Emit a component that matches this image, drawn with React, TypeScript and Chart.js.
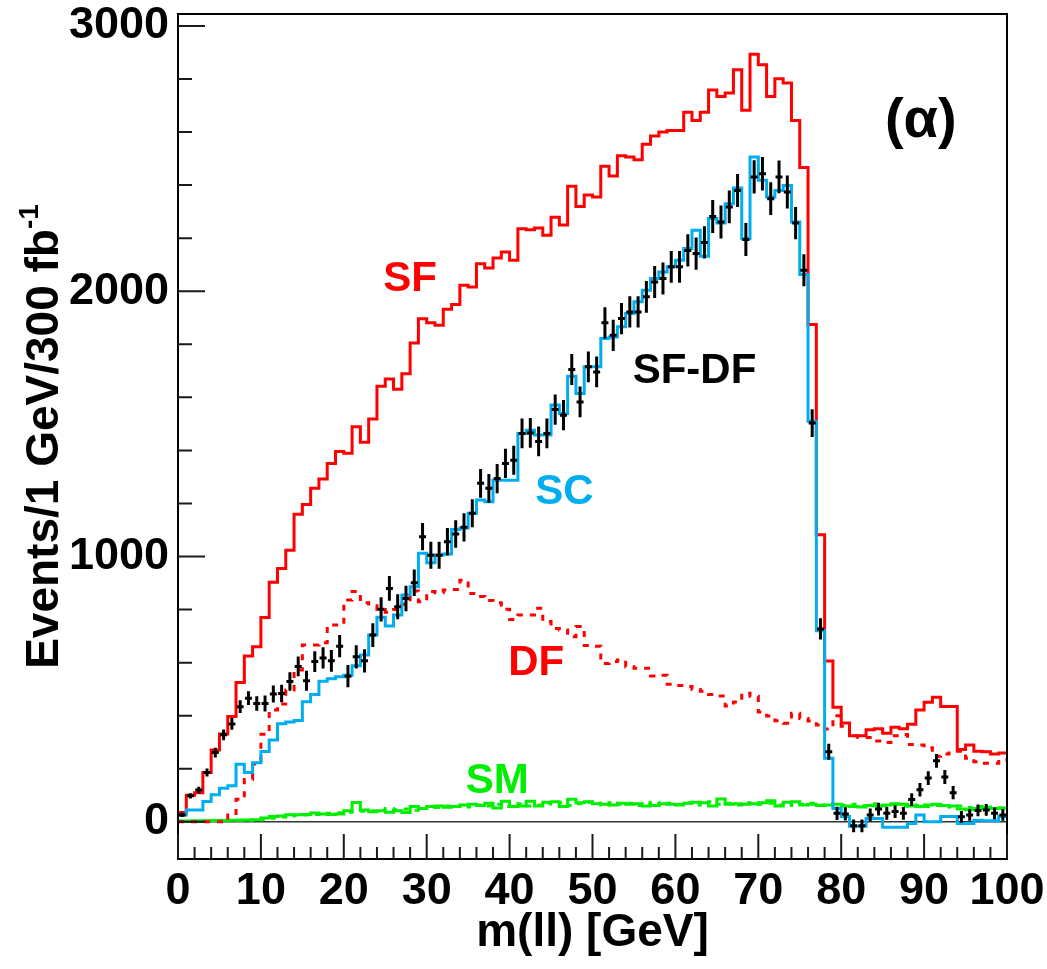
import React, { useEffect, useRef } from 'react';
import { Chart, registerables } from 'chart.js';

Chart.register(...registerables);

// ---- data (1 GeV bins, 0..100 GeV) ----
const BIN_EDGES = [
  0, 1, 2, 3, 4, 5, 6, 7, 8, 9, 10, 11, 12, 13, 14, 15, 16, 17, 18, 19,
  20, 21, 22, 23, 24, 25, 26, 27, 28, 29, 30, 31, 32, 33, 34, 35, 36, 37, 38, 39,
  40, 41, 42, 43, 44, 45, 46, 47, 48, 49, 50, 51, 52, 53, 54, 55, 56, 57, 58, 59,
  60, 61, 62, 63, 64, 65, 66, 67, 68, 69, 70, 71, 72, 73, 74, 75, 76, 77, 78, 79,
  80, 81, 82, 83, 84, 85, 86, 87, 88, 89, 90, 91, 92, 93, 94, 95, 96, 97, 98, 99, 100,
];

const SF = [
  35, 100, 110, 186, 271, 331, 397, 525, 625, 660,
  770, 903, 955, 1024, 1159, 1196, 1257, 1292, 1351, 1396,
  1389, 1489, 1431, 1518, 1642, 1669, 1631, 1689, 1805, 1896,
  1881, 1872, 1932, 1950, 2023, 2016, 2104, 2088, 2125, 2148,
  2117, 2236, 2232, 2238, 2211, 2279, 2250, 2396, 2319, 2363,
  2355, 2471, 2434, 2511, 2506, 2496, 2554, 2585, 2600, 2606,
  2606, 2675, 2644, 2675, 2759, 2734, 2747, 2835, 2682, 2893,
  2854, 2734, 2801, 2785, 2644, 2466, 1875, 1082, 606, 432,
  373, 325, 325, 347, 351, 334, 357, 351, 368, 422,
  451, 470, 435, 435, 273, 290, 266, 264, 256, 260,
];

const DF = [
  0, 0, 0, 0, 0, 0, 26, 85, 160, 218,
  330, 422, 444, 497, 572, 667, 667, 675, 742, 742,
  836, 868, 826, 815, 800, 790, 800, 820, 870, 830,
  868, 864, 874, 876, 911, 861, 849, 834, 826, 801,
  763, 780, 780, 805, 755, 729, 723, 698, 736, 665,
  662, 597, 604, 610, 585, 579, 579, 550, 553, 519,
  514, 510, 499, 492, 480, 474, 437, 452, 485, 473,
  414, 399, 381, 372, 409, 390, 380, 365, 350, 400,
  360, 325, 318, 318, 305, 299, 325, 329, 292, 290,
  279, 247, 256, 266, 266, 240, 227, 221, 221, 234,
];

const SC = [
  26, 45, 45, 77, 102, 127, 136, 217, 186, 223,
  265, 309, 370, 376, 382, 453, 480, 530, 539, 547,
  553, 588, 629, 704, 771, 738, 780, 855, 886, 1012,
  977, 1006, 1010, 1102, 1108, 1163, 1213, 1207, 1288, 1288,
  1288, 1464, 1476, 1458, 1458, 1571, 1539, 1680, 1615, 1715,
  1715, 1822, 1828, 1866, 1916, 1960, 2004, 2048, 2073, 2092,
  2117, 2161, 2230, 2132, 2274, 2257, 2330, 2389, 2198, 2506,
  2418, 2355, 2380, 2399, 2261, 2063, 1510, 720, 240, 50,
  20, -17, -17, 13, 13, -20, -20, -20, -6, 26,
  0, 0, 20, 20, -6, -6, 6, 4, 4, 20,
];

const SM = [
  3, 3, 4, 4, 5, 5, 6, 6, 7, 8,
  15, 20, 22, 27, 27, 28, 33, 30, 28, 30,
  42, 73, 45, 38, 42, 36, 42, 35, 58, 50,
  58, 60, 55, 58, 64, 66, 62, 70, 52, 78,
  58, 60, 78, 60, 74, 76, 58, 85, 72, 76,
  68, 66, 64, 70, 66, 68, 60, 62, 68, 66,
  64, 70, 74, 72, 60, 86, 66, 68, 66, 68,
  72, 80, 60, 74, 76, 64, 66, 62, 64, 66,
  60, 58, 56, 62, 60, 64, 68, 66, 60, 58,
  64, 66, 62, 60, 48, 46, 50, 54, 50, 52,
];

const SM_DASHED = [
  2, 2, 3, 3, 4, 4, 5, 6, 6, 7,
  10, 14, 18, 22, 25, 26, 28, 30, 32, 34,
  36, 38, 40, 42, 44, 50, 46, 48, 44, 52,
  56, 54, 60, 58, 62, 56, 64, 60, 66, 58,
  62, 68, 60, 64, 70, 66, 72, 62, 68, 74,
  70, 64, 72, 66, 70, 62, 68, 74, 64, 70,
  66, 72, 64, 70, 76, 66, 70, 64, 72, 68,
  66, 70, 64, 68, 62, 66, 70, 64, 68, 60,
  64, 66, 60, 64, 68, 62, 66, 60, 64, 62,
  58, 62, 60, 56, 60, 54, 58, 50, 56, 52,
];

const SFDF_DATA = [
  26, 98, 120, 186, 261, 328, 369, 434, 466, 446,
  446, 482, 484, 529, 586, 532, 604, 618, 607, 662,
  549, 622, 607, 704, 801, 880, 811, 842, 901, 1075,
  1005, 1005, 1056, 1085, 1110, 1163, 1276, 1257, 1294, 1351,
  1363, 1464, 1466, 1434, 1464, 1554, 1533, 1705, 1583, 1715,
  1696, 1881, 1834, 1897, 1922, 1922, 1979, 2035, 2048, 2092,
  2092, 2154, 2142, 2184, 2282, 2261, 2318, 2380, 2195, 2431,
  2443, 2349, 2431, 2374, 2257, 2079, 1503, 727, 264, 32,
  30, -15, -15, 26, 48, 32, 39, 32, 84, 121,
  165, 230, 169, 110, 19, 26, 43, 45, 32, 26,
];

const SFDF_ERR = [
  8, 10, 12, 15, 18, 20, 22, 24, 26, 27,
  30, 32, 33, 35, 37, 38, 39, 40, 41, 42,
  42, 44, 44, 45, 46, 47, 47, 48, 50, 51,
  51, 51, 52, 52, 53, 53, 54, 54, 55, 55,
  55, 56, 56, 56, 56, 57, 57, 58, 58, 58,
  58, 59, 59, 59, 59, 59, 60, 60, 60, 60,
  60, 61, 61, 61, 62, 62, 62, 62, 62, 63,
  63, 62, 62, 62, 61, 60, 52, 40, 30, 25,
  25, 24, 24, 24, 24, 24, 24, 24, 24, 25,
  26, 26, 26, 25, 22, 22, 22, 22, 22, 22,
];

const X_TICKS = [0, 10, 20, 30, 40, 50, 60, 70, 80, 90, 100];
const X_MINOR_TICKS = [
  2, 4, 6, 8, 12, 14, 16, 18, 22, 24, 26, 28, 32, 34, 36, 38, 42, 44, 46, 48,
  52, 54, 56, 58, 62, 64, 66, 68, 72, 74, 76, 78, 82, 84, 86, 88, 92, 94, 96, 98,
];
const Y_TICKS = [0, 1000, 2000, 3000];
const Y_MINOR_TICKS = [200, 400, 600, 800, 1200, 1400, 1600, 1800, 2200, 2400, 2600, 2800];

const X_MIN = 0;
const X_MAX = 100;
const Y_MIN = -140;
const Y_MAX = 3045;

const X_TITLE = 'm(ll) [GeV]';
const Y_TITLE = 'Events/1 GeV/300 fb';
const Y_TITLE_SUP = '-1';

// text annotations anchored in data coordinates (center x, baseline y)
const ANNOTATIONS = [
  { text: 'SF', x: 28.0, y: 2000, color: '#ff0000' },
  { text: 'SF-DF', x: 62.3, y: 1653, color: '#000000' },
  { text: 'SC', x: 46.6, y: 1198, color: '#00aeef' },
  { text: 'DF', x: 43.2, y: 554, color: '#ff0000' },
  { text: 'SM', x: 38.5, y: 109, color: '#00ee00' },
];
const PANEL_TAG = { text: '(\u03b1)', x: 89.6, y: 2580 };

const FONT = '"Liberation Sans", Arial, Helvetica, sans-serif';

function histPoints(values: number[]) {
  const pts = values.map((v, i) => ({ x: BIN_EDGES[i], y: v }));
  pts.push({ x: BIN_EDGES[values.length], y: values[values.length - 1] });
  return pts;
}

const rootPlugin = {
  id: 'rootStyle',
  beforeDatasetsDraw(chart: any) {
    const { ctx, chartArea, scales } = chart;
    const y0 = scales.y.getPixelForValue(0);
    ctx.save();
    ctx.strokeStyle = '#333333';
    ctx.lineWidth = 1.5;
    ctx.beginPath();
    ctx.moveTo(chartArea.left, y0);
    ctx.lineTo(chartArea.right, y0);
    ctx.stroke();
    ctx.restore();
  },
  afterDatasetsDraw(chart: any) {
    const { ctx, chartArea, scales } = chart;
    const xs = scales.x;
    const ys = scales.y;
    const { left, right, top, bottom } = chartArea;
    ctx.save();

    // data points with error bars
    ctx.strokeStyle = '#000000';
    ctx.lineWidth = 3;
    ctx.lineCap = 'butt';
    SFDF_DATA.forEach((v, i) => {
      const lo = BIN_EDGES[i];
      const hi = BIN_EDGES[i + 1];
      const xc = (lo + hi) / 2;
      const px = xs.getPixelForValue(xc);
      const pxl = xs.getPixelForValue(xc - 0.42 * (hi - lo));
      const pxh = xs.getPixelForValue(xc + 0.42 * (hi - lo));
      const py = ys.getPixelForValue(v);
      const pyl = ys.getPixelForValue(v - SFDF_ERR[i]);
      const pyh = ys.getPixelForValue(v + SFDF_ERR[i]);
      ctx.beginPath();
      ctx.moveTo(px, pyl);
      ctx.lineTo(px, pyh);
      ctx.moveTo(pxl, py);
      ctx.lineTo(pxh, py);
      ctx.stroke();
    });

    // frame
    ctx.strokeStyle = '#000000';
    ctx.lineWidth = 2;
    ctx.strokeRect(left, top, right - left, bottom - top);

    // ticks (inside)
    ctx.strokeStyle = '#1a1a1a';
    ctx.lineWidth = 2;
    ctx.beginPath();
    Y_TICKS.forEach((t) => {
      const py = ys.getPixelForValue(t);
      ctx.moveTo(left, py);
      ctx.lineTo(left + 27, py);
    });
    Y_MINOR_TICKS.forEach((t) => {
      const py = ys.getPixelForValue(t);
      ctx.moveTo(left, py);
      ctx.lineTo(left + 14, py);
    });
    X_TICKS.forEach((t) => {
      const px = xs.getPixelForValue(t);
      ctx.moveTo(px, bottom);
      ctx.lineTo(px, bottom - 25);
    });
    X_MINOR_TICKS.forEach((t) => {
      const px = xs.getPixelForValue(t);
      ctx.moveTo(px, bottom);
      ctx.lineTo(px, bottom - 12);
    });
    ctx.stroke();
    ctx.restore();
  },
  afterDraw(chart: any) {
    const { ctx, chartArea, scales } = chart;
    const xs = scales.x;
    const ys = scales.y;
    ctx.save();
    ctx.textAlign = 'center';
    ctx.textBaseline = 'alphabetic';

    ANNOTATIONS.forEach((a) => {
      ctx.font = `bold 42px ${FONT}`;
      ctx.fillStyle = a.color;
      ctx.fillText(a.text, xs.getPixelForValue(a.x), ys.getPixelForValue(a.y));
    });

    ctx.font = `bold 56px ${FONT}`;
    ctx.fillStyle = '#000000';
    ctx.fillText(PANEL_TAG.text, xs.getPixelForValue(PANEL_TAG.x), ys.getPixelForValue(PANEL_TAG.y));

    // x title
    ctx.font = `bold 46px ${FONT}`;
    ctx.fillStyle = '#000000';
    ctx.fillText(X_TITLE, (chartArea.left + chartArea.right) / 2, 946);

    // y title (rotated, centred on the plot height) with superscript
    ctx.translate(58, (chartArea.top + chartArea.bottom) / 2);
    ctx.rotate(-Math.PI / 2);
    ctx.font = `bold 46px ${FONT}`;
    const mainW = ctx.measureText(Y_TITLE).width;
    ctx.font = `bold 28px ${FONT}`;
    const supW = ctx.measureText(Y_TITLE_SUP).width;
    const total = mainW + supW;
    ctx.textAlign = 'left';
    ctx.font = `bold 46px ${FONT}`;
    ctx.fillText(Y_TITLE, -total / 2, 0);
    ctx.font = `bold 28px ${FONT}`;
    ctx.fillText(Y_TITLE_SUP, -total / 2 + mainW, -20);
    ctx.restore();
  },
};

export default function App() {
  const canvasRef = useRef<HTMLCanvasElement | null>(null);

  useEffect(() => {
    document.body.style.margin = '0';
    const canvas = canvasRef.current;
    if (!canvas) return;

    const histStyle = {
      borderWidth: 3,
      pointRadius: 0,
      fill: false,
      stepped: 'before' as const,
      borderJoinStyle: 'miter' as const,
      borderCapStyle: 'butt' as const,
    };

    const chart = new Chart(canvas, {
      type: 'line',
      data: {
        datasets: [
          {
            label: 'SF-DF',
            type: 'scatter',
            data: SFDF_DATA.map((v, i) => ({ x: (BIN_EDGES[i] + BIN_EDGES[i + 1]) / 2, y: v })),
            pointRadius: 0,
            showLine: false,
            order: 0,
          } as any,
          { label: 'SC', data: histPoints(SC), borderColor: '#00aeef', order: 1, ...histStyle },
          { label: 'SF', data: histPoints(SF), borderColor: '#ff0000', order: 2, ...histStyle },
          { label: 'DF', data: histPoints(DF), borderColor: '#ff0000', borderDash: [6, 7], order: 3, ...histStyle },
          { label: 'SM', data: histPoints(SM), borderColor: '#00ee00', order: 4, ...histStyle },
          { label: 'SM (DF)', data: histPoints(SM_DASHED), borderColor: '#00ee00', borderDash: [5, 7], order: 5, ...histStyle },
        ],
      },
      options: {
        responsive: false,
        animation: false,
        layout: { padding: { left: 0, right: 40, top: 14, bottom: 0 } },
        plugins: {
          legend: { display: false },
          tooltip: { enabled: false },
        },
        scales: {
          x: {
            type: 'linear',
            min: X_MIN,
            max: X_MAX,
            grid: { display: false, drawTicks: false },
            border: { display: false },
            afterBuildTicks: (scale: any) => {
              scale.ticks = X_TICKS.map((v) => ({ value: v }));
            },
            afterFit: (scale: any) => {
              scale.height = 110;
              scale.paddingLeft = 0;
              scale.paddingRight = 0;
            },
            ticks: {
              autoSkip: false,
              maxRotation: 0,
              minRotation: 0,
              padding: 6,
              color: '#000000',
              font: { family: FONT, size: 45, weight: 'bold' },
              callback: (v: any) => String(v),
            },
          },
          y: {
            type: 'linear',
            min: Y_MIN,
            max: Y_MAX,
            grid: { display: false, drawTicks: false },
            border: { display: false },
            afterBuildTicks: (scale: any) => {
              scale.ticks = Y_TICKS.map((v) => ({ value: v }));
            },
            afterFit: (scale: any) => {
              scale.width = 178;
              scale.paddingTop = 0;
              scale.paddingBottom = 0;
            },
            ticks: {
              padding: 9,
              color: '#000000',
              font: { family: FONT, size: 45, weight: 'bold' },
              callback: (v: any) => String(v),
            },
          },
        },
      },
      plugins: [rootPlugin],
    });

    return () => chart.destroy();
  }, []);

  return <canvas ref={canvasRef} width={1047} height={969} style={{ display: 'block' }} />;
}
